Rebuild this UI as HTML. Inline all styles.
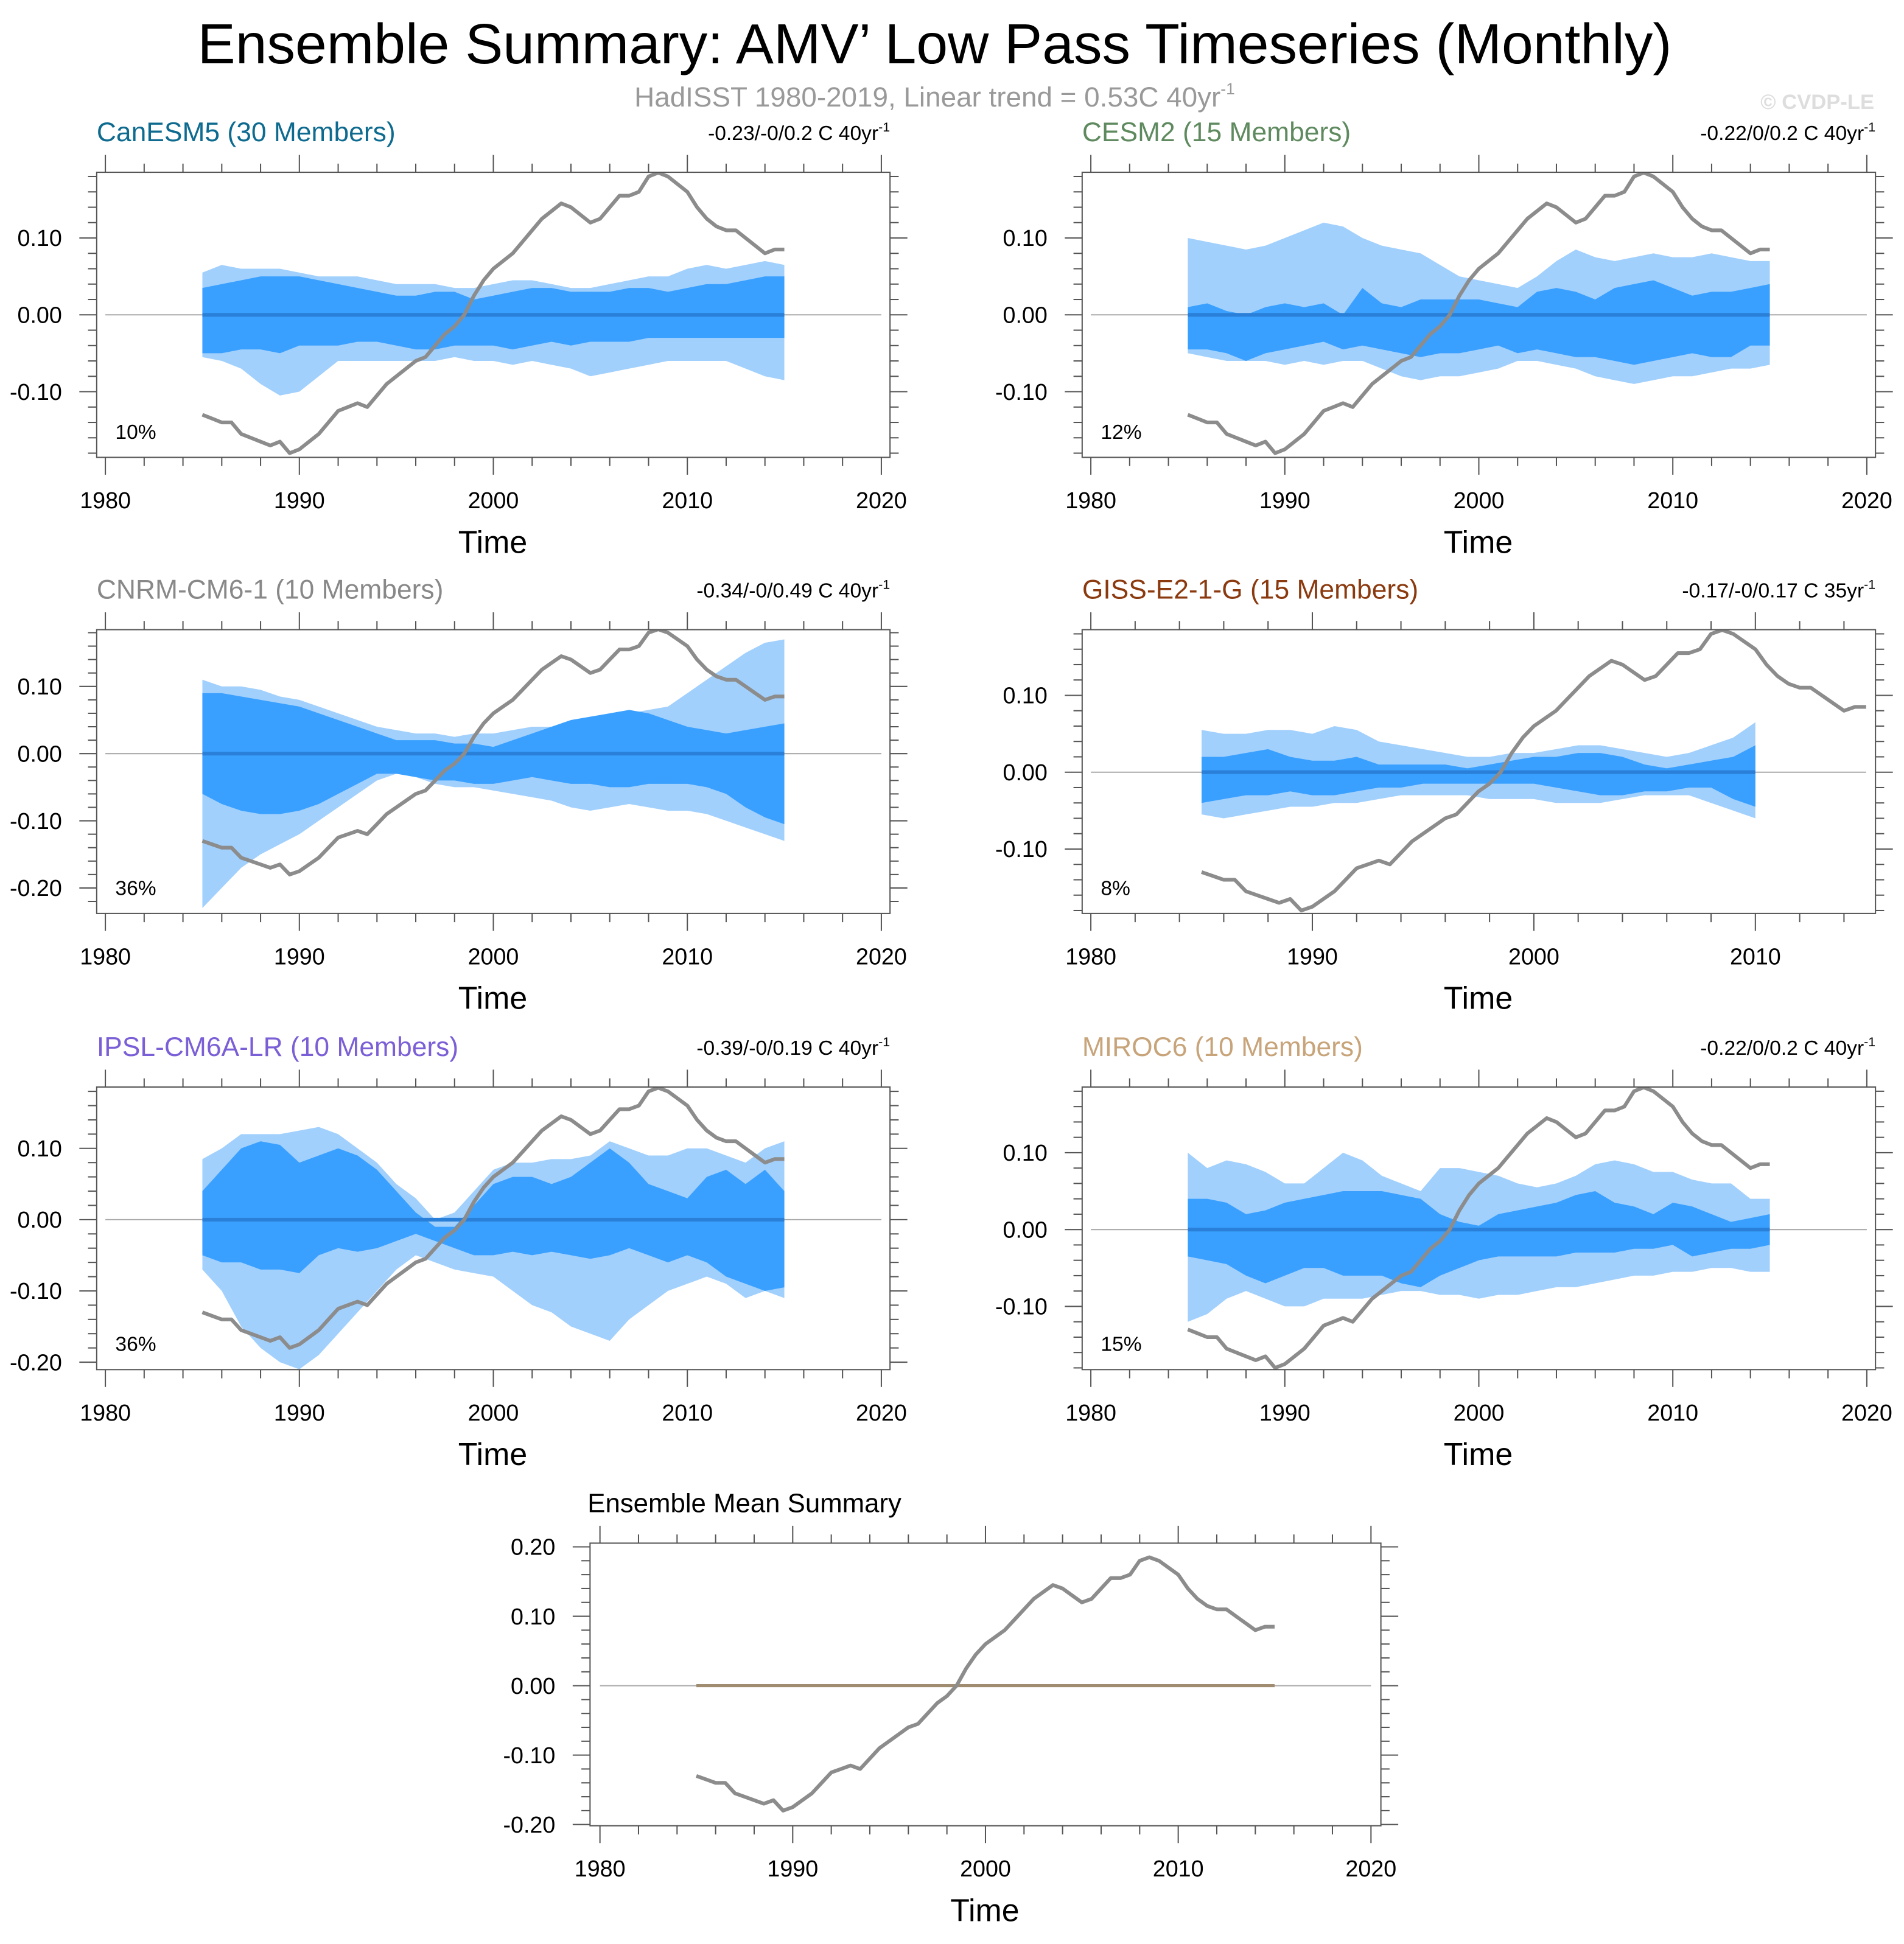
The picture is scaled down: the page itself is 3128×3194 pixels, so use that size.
<!DOCTYPE html>
<html><head><meta charset="utf-8">
<style>
html,body{margin:0;padding:0;background:#fff;}
svg{display:block;font-family:"Liberation Sans",sans-serif;}
</style></head>
<body>
<svg id="chart" width="3128" height="3194" viewBox="0 0 1536 1568.4" xmlns="http://www.w3.org/2000/svg">
<text x="754" y="51" font-size="45.7" text-anchor="middle" fill="#000">Ensemble Summary: AMV’ Low Pass Timeseries (Monthly)</text>
<text x="754" y="86" font-size="22.5" text-anchor="middle" fill="#999">HadISST 1980-2019, Linear trend = 0.53C 40yr<tspan font-size="13" dy="-10">-1</tspan></text>
<text x="1512" y="88" font-size="17" font-weight="bold" text-anchor="end" fill="#ddd">© CVDP-LE</text>
<g id="panels"></g>
</svg>
<script>
// Observed (HadISST) low-pass AMV, half-year samples from 1985.0 to 2015.0
const obsStart = 1985;
const obsStep = 0.5;
const obsValues = [-0.13,-0.135,-0.14,-0.14,-0.155,-0.16,-0.165,-0.17,-0.165,-0.18,-0.175,-0.165,-0.155,-0.14,-0.125,-0.12,-0.115,-0.12,-0.105,-0.09,-0.08,-0.07,-0.06,-0.055,-0.04,-0.025,-0.015,0.0,0.025,0.045,0.06,0.07,0.08,0.095,0.11,0.125,0.135,0.145,0.14,0.13,0.12,0.125,0.14,0.155,0.155,0.16,0.18,0.185,0.18,0.17,0.16,0.14,0.125,0.115,0.11,0.11,0.1,0.09,0.08,0.085,0.085];

// Ensemble bands, yearly values from 1985
const canOuterHi=[0.055,0.065,0.06,0.06,0.06,0.055,0.05,0.05,0.05,0.045,0.04,0.04,0.04,0.035,0.035,0.04,0.045,0.045,0.04,0.035,0.035,0.04,0.045,0.05,0.05,0.06,0.065,0.06,0.065,0.07,0.065];
const canInnerHi=[0.035,0.04,0.045,0.05,0.05,0.05,0.045,0.04,0.035,0.03,0.025,0.025,0.03,0.03,0.02,0.025,0.03,0.035,0.035,0.03,0.03,0.03,0.035,0.035,0.03,0.035,0.04,0.04,0.045,0.05,0.05];
const canInnerLo=[-0.05,-0.05,-0.045,-0.045,-0.05,-0.04,-0.04,-0.04,-0.035,-0.035,-0.04,-0.045,-0.045,-0.04,-0.04,-0.04,-0.045,-0.04,-0.035,-0.04,-0.035,-0.035,-0.035,-0.03,-0.03,-0.03,-0.03,-0.03,-0.03,-0.03,-0.03];
const canOuterLo=[-0.055,-0.06,-0.07,-0.09,-0.105,-0.1,-0.08,-0.06,-0.06,-0.06,-0.06,-0.06,-0.06,-0.055,-0.06,-0.06,-0.065,-0.06,-0.065,-0.07,-0.08,-0.075,-0.07,-0.065,-0.06,-0.06,-0.06,-0.06,-0.07,-0.08,-0.085];

const cesOuterHi=[0.1,0.095,0.09,0.085,0.09,0.1,0.11,0.12,0.115,0.1,0.09,0.085,0.08,0.065,0.05,0.045,0.04,0.035,0.05,0.07,0.085,0.075,0.07,0.075,0.08,0.075,0.075,0.08,0.075,0.07,0.07];
const cesInnerHi=[0.01,0.015,0.005,0.0,0.01,0.015,0.01,0.015,0.0,0.035,0.015,0.01,0.02,0.02,0.02,0.02,0.015,0.01,0.03,0.035,0.03,0.02,0.035,0.04,0.045,0.035,0.025,0.03,0.03,0.035,0.04];
const cesInnerLo=[-0.045,-0.045,-0.05,-0.06,-0.05,-0.045,-0.04,-0.035,-0.045,-0.04,-0.045,-0.05,-0.055,-0.05,-0.05,-0.045,-0.04,-0.05,-0.045,-0.05,-0.055,-0.055,-0.06,-0.065,-0.06,-0.055,-0.05,-0.055,-0.055,-0.04,-0.04];
const cesOuterLo=[-0.05,-0.055,-0.06,-0.06,-0.06,-0.065,-0.06,-0.065,-0.06,-0.06,-0.07,-0.08,-0.085,-0.08,-0.08,-0.075,-0.07,-0.06,-0.06,-0.065,-0.07,-0.08,-0.085,-0.09,-0.085,-0.08,-0.08,-0.075,-0.07,-0.07,-0.065];

const cnrOuterHi=[0.11,0.1,0.1,0.095,0.085,0.08,0.07,0.06,0.05,0.04,0.035,0.03,0.03,0.025,0.03,0.03,0.035,0.04,0.04,0.045,0.05,0.055,0.06,0.065,0.07,0.09,0.11,0.13,0.15,0.165,0.17];
const cnrInnerHi=[0.09,0.09,0.085,0.08,0.075,0.07,0.06,0.05,0.04,0.03,0.02,0.02,0.02,0.015,0.015,0.01,0.02,0.03,0.04,0.05,0.055,0.06,0.065,0.06,0.05,0.04,0.035,0.03,0.035,0.04,0.045];
const cnrInnerLo=[-0.06,-0.075,-0.085,-0.09,-0.09,-0.085,-0.075,-0.06,-0.045,-0.03,-0.03,-0.035,-0.04,-0.04,-0.045,-0.045,-0.04,-0.035,-0.04,-0.045,-0.045,-0.05,-0.05,-0.045,-0.045,-0.045,-0.05,-0.06,-0.08,-0.095,-0.105];
const cnrOuterLo=[-0.23,-0.2,-0.17,-0.15,-0.135,-0.12,-0.1,-0.08,-0.06,-0.04,-0.03,-0.035,-0.045,-0.05,-0.05,-0.055,-0.06,-0.065,-0.07,-0.08,-0.085,-0.08,-0.075,-0.08,-0.085,-0.085,-0.09,-0.1,-0.11,-0.12,-0.13];

const gisOuterHi=[0.055,0.05,0.05,0.055,0.055,0.05,0.06,0.055,0.04,0.035,0.03,0.025,0.02,0.02,0.025,0.025,0.03,0.035,0.035,0.03,0.025,0.02,0.025,0.035,0.045,0.065];
const gisInnerHi=[0.02,0.02,0.025,0.03,0.02,0.015,0.015,0.02,0.01,0.01,0.01,0.01,0.005,0.01,0.015,0.02,0.02,0.025,0.025,0.02,0.01,0.005,0.01,0.015,0.02,0.035];
const gisInnerLo=[-0.04,-0.035,-0.03,-0.03,-0.025,-0.03,-0.03,-0.025,-0.02,-0.02,-0.015,-0.015,-0.015,-0.015,-0.015,-0.015,-0.02,-0.025,-0.03,-0.03,-0.025,-0.025,-0.02,-0.02,-0.035,-0.045];
const gisOuterLo=[-0.055,-0.06,-0.055,-0.05,-0.045,-0.045,-0.04,-0.04,-0.035,-0.03,-0.03,-0.03,-0.03,-0.035,-0.035,-0.035,-0.04,-0.04,-0.04,-0.035,-0.03,-0.03,-0.03,-0.04,-0.05,-0.06];

const ipsOuterHi=[0.085,0.1,0.12,0.12,0.12,0.125,0.13,0.12,0.1,0.08,0.05,0.03,0.0,0.01,0.04,0.07,0.08,0.08,0.085,0.085,0.09,0.11,0.1,0.09,0.09,0.1,0.1,0.09,0.08,0.1,0.11];
const ipsInnerHi=[0.04,0.07,0.1,0.11,0.105,0.08,0.09,0.1,0.09,0.07,0.04,0.01,-0.01,-0.01,0.02,0.05,0.06,0.06,0.05,0.06,0.08,0.1,0.08,0.05,0.04,0.03,0.06,0.07,0.05,0.07,0.04];
const ipsInnerLo=[-0.05,-0.06,-0.06,-0.07,-0.07,-0.075,-0.05,-0.04,-0.045,-0.04,-0.03,-0.02,-0.03,-0.04,-0.05,-0.05,-0.045,-0.05,-0.045,-0.05,-0.055,-0.05,-0.04,-0.05,-0.06,-0.05,-0.06,-0.08,-0.09,-0.1,-0.095];
const ipsOuterLo=[-0.07,-0.1,-0.15,-0.18,-0.2,-0.21,-0.19,-0.16,-0.13,-0.1,-0.07,-0.05,-0.06,-0.07,-0.075,-0.08,-0.1,-0.12,-0.13,-0.15,-0.16,-0.17,-0.14,-0.12,-0.1,-0.09,-0.08,-0.09,-0.11,-0.1,-0.11];

const mirOuterHi=[0.1,0.08,0.09,0.085,0.075,0.06,0.06,0.08,0.1,0.09,0.07,0.06,0.05,0.08,0.08,0.075,0.07,0.06,0.055,0.06,0.07,0.085,0.09,0.085,0.075,0.075,0.065,0.06,0.06,0.04,0.04];
const mirInnerHi=[0.04,0.04,0.035,0.02,0.025,0.035,0.04,0.045,0.05,0.05,0.05,0.045,0.04,0.02,0.01,0.005,0.02,0.025,0.03,0.035,0.045,0.05,0.035,0.03,0.02,0.035,0.03,0.02,0.01,0.015,0.02];
const mirInnerLo=[-0.035,-0.04,-0.045,-0.06,-0.07,-0.06,-0.05,-0.05,-0.06,-0.06,-0.06,-0.07,-0.075,-0.06,-0.05,-0.04,-0.035,-0.035,-0.035,-0.035,-0.03,-0.03,-0.03,-0.025,-0.025,-0.02,-0.035,-0.03,-0.025,-0.025,-0.02];
const mirOuterLo=[-0.12,-0.11,-0.09,-0.08,-0.09,-0.1,-0.1,-0.09,-0.09,-0.09,-0.085,-0.08,-0.08,-0.085,-0.085,-0.09,-0.085,-0.085,-0.08,-0.075,-0.075,-0.07,-0.065,-0.06,-0.06,-0.055,-0.055,-0.05,-0.05,-0.055,-0.055];

const ensMeanStart = 1985;
const ensMeanValues = [0,0,0,0,0,0,0,0,0,0,0,0,0,0,0,0,0,0,0,0,0,0,0,0,0,0,0,0,0,0,0];

const yTicks3 = [-0.10,0.00,0.10];
const yTicks4 = [-0.20,-0.10,0.00,0.10];
const yTicks5 = [-0.20,-0.10,0.00,0.10,0.20];
const xTicks5 = [1980,1990,2000,2010,2020];
const xTicks4 = [1980,1990,2000,2010];

const panels = [
 {id:'canesm5',title:'CanESM5 (30 Members)',color:'#0e6b8f',right:'-0.23/-0/0.2 C 40yr',pct:'10%',box:[78,139,718,369],x1980:85,ppy:15.65,y0:254,ppu:620,yt:yTicks3,xt:xTicks5,xmax:2020,b:[canOuterHi,canInnerHi,canInnerLo,canOuterLo]},
 {id:'cesm2',title:'CESM2 (15 Members)',color:'#5f8a5f',right:'-0.22/0/0.2 C 40yr',pct:'12%',box:[873,139,1513,369],x1980:880,ppy:15.65,y0:254,ppu:620,yt:yTicks3,xt:xTicks5,xmax:2020,b:[cesOuterHi,cesInnerHi,cesInnerLo,cesOuterLo]},
 {id:'cnrm-cm6-1',title:'CNRM-CM6-1 (10 Members)',color:'#888888',right:'-0.34/-0/0.49 C 40yr',pct:'36%',box:[78,508,718,737],x1980:85,ppy:15.65,y0:608,ppu:542,yt:yTicks4,xt:xTicks5,xmax:2020,b:[cnrOuterHi,cnrInnerHi,cnrInnerLo,cnrOuterLo]},
 {id:'giss-e2-1-g',title:'GISS-E2-1-G (15 Members)',color:'#8b3a0f',right:'-0.17/-0/0.17 C 35yr',pct:'8%',box:[873,508,1513,737],x1980:880,ppy:17.87,y0:623,ppu:620,yt:yTicks3,xt:xTicks4,xmax:2015,b:[gisOuterHi,gisInnerHi,gisInnerLo,gisOuterLo]},
 {id:'ipsl-cm6a-lr',title:'IPSL-CM6A-LR (10 Members)',color:'#7b5fd6',right:'-0.39/-0/0.19 C 40yr',pct:'36%',box:[78,877,718,1105],x1980:85,ppy:15.65,y0:984,ppu:575,yt:yTicks4,xt:xTicks5,xmax:2020,b:[ipsOuterHi,ipsInnerHi,ipsInnerLo,ipsOuterLo]},
 {id:'miroc6',title:'MIROC6 (10 Members)',color:'#c8a47a',right:'-0.22/0/0.2 C 40yr',pct:'15%',box:[873,877,1513,1105],x1980:880,ppy:15.65,y0:992,ppu:620,yt:yTicks3,xt:xTicks5,xmax:2020,b:[mirOuterHi,mirInnerHi,mirInnerLo,mirOuterLo]},
 {id:'ensemble-mean',title:'Ensemble Mean Summary',color:'#000',right:null,pct:null,box:[476,1245,1114,1473],x1980:484,ppy:15.55,y0:1360,ppu:560,yt:yTicks5,xt:xTicks5,xmax:2020,b:null,mean:true}
];

const NS='http://www.w3.org/2000/svg';
const root=document.getElementById('panels');
function mk(tag,attrs,parent){const e=document.createElementNS(NS,tag);for(const k in attrs)e.setAttribute(k,attrs[k]);(parent||root).appendChild(e);return e;}

panels.forEach(p=>{
  const g=mk('g',{});
  
  
  const [l,t,r,b]=p.box;
  const X=yr=>p.x1980+(yr-1980)*p.ppy;
  const Y=v=>p.y0-v*p.ppu;
  const clipId='clip-'+p.id;
  const cp=mk('clipPath',{id:clipId},g);mk('rect',{x:l,y:t,width:r-l,height:b-t},cp);
  const inner=mk('g',{'clip-path':'url(#'+clipId+')'},g);
  
  
  const zl=mk('line',{x1:X(1980),x2:X(p.xmax),y1:Y(0),y2:Y(0),stroke:'#aaa','stroke-width':1},inner);
  
  
  if(p.b){
    const band=(hi,lo,fill,name)=>{
      let d='';
      hi.forEach((v,i)=>{d+=(i?'L':'M')+X(1985+i).toFixed(2)+','+Y(v).toFixed(2);});
      for(let i=lo.length-1;i>=0;i--)d+='L'+X(1985+i).toFixed(2)+','+Y(lo[i]).toFixed(2);
      const e=mk('path',{d:d+'Z',fill:fill},inner);
      
      
    };
    band(p.b[0],p.b[3],'#a2d0fd','ensemble-range-band');
    band(p.b[1],p.b[2],'#3aa0ff','ensemble-iqr-band');
    const n=p.b[0].length;
    const ml=mk('line',{x1:X(1985),x2:X(1985+n-1),y1:Y(0),y2:Y(0),stroke:'#2a80d8','stroke-width':3},inner);
    
    
  }
  if(p.mean){
    let d='';ensMeanValues.forEach((v,i)=>{d+=(i?'L':'M')+X(ensMeanStart+i)+','+Y(v);});
    const e=mk('path',{d:d,fill:'none',stroke:'#a08c70','stroke-width':2.5},inner);
    
    
  }
  let od='';obsValues.forEach((v,i)=>{od+=(i?'L':'M')+X(obsStart+i*obsStep).toFixed(2)+','+Y(v).toFixed(2);});
  const ob=mk('path',{d:od,fill:'none',stroke:'#8c8c8c','stroke-width':3,'stroke-linejoin':'round'},inner);
  
  
  const fr=mk('rect',{x:l,y:t,width:r-l,height:b-t,fill:'none',stroke:'#555','stroke-width':1},g);
  
  
  const tk=mk('g',{stroke:'#555','stroke-width':1},g);
  for(let yr=1980;yr<=p.xmax+0.01;yr+=2){
    const x=X(yr);if(x<l||x>r)continue;
    const len=(yr%10===0)?14:7;
    mk('line',{x1:x,x2:x,y1:b,y2:b+len},tk);mk('line',{x1:x,x2:x,y1:t,y2:t-len},tk);
  }
  for(let k=-30;k<=30;k++){
    const v=k*0.02;const y=Y(v);if(y<t-0.5||y>b+0.5)continue;
    const len=(k%5===0)?14:7;
    mk('line',{x1:l,x2:l-len,y1:y,y2:y},tk);mk('line',{x1:r,x2:r+len,y1:y,y2:y},tk);
  }
  p.yt.forEach(v=>{
    const e=mk('text',{x:l-28,y:Y(v)+6.5,'font-size':18.5,'text-anchor':'end',fill:'#000'},g);
    e.textContent=v.toFixed(2);
    
    
  });
  p.xt.forEach(v=>{
    const e=mk('text',{x:X(v),y:b+41,'font-size':18.5,'text-anchor':'middle',fill:'#000'},g);
    e.textContent=v;
    
    
  });
  const xt=mk('text',{x:(l+r)/2-0.5,y:b+77,'font-size':25.5,'text-anchor':'middle',fill:'#000'},g);
  xt.textContent='Time';
  
  
  const ti=mk('text',{x:p.mean?l-2:l,y:t-25,'font-size':p.mean?21.5:21.8,fill:p.color},g);
  ti.textContent=p.title;
  
  
  if(p.right){
    const rt=mk('text',{x:r,y:t-26,'font-size':16.5,'text-anchor':'end',fill:'#000'},g);
    rt.textContent=p.right;
    const sp=mk('tspan',{'font-size':10.5,dy:-7},rt);sp.textContent='-1';
    
    
  }
  if(p.pct){
    const pc=mk('text',{x:l+15,y:b-15,'font-size':16.5,fill:'#000'},g);
    pc.textContent=p.pct;
    
    
  }
});
</script>
</body></html>
